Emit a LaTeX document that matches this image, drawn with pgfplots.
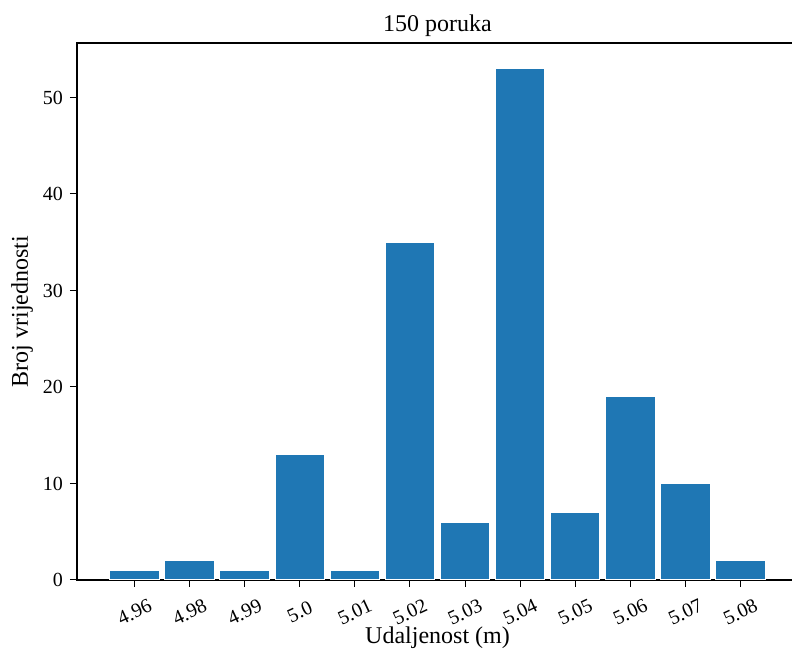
\documentclass[border=0pt]{standalone}
\usepackage{pgfplots}
\pgfplotsset{compat=1.18}
\usepackage{fontspec}
\setmainfont{Liberation Serif}
\definecolor{mplblue}{HTML}{1F77B4}
\begin{document}
\begin{tikzpicture}
\begin{axis}[
  name=ax,
  scale only axis,
  width=360.5pt, height=268.5pt,
  at={(0,0)}, anchor=south west,
  xmin=-1.045, xmax=12.045,
  ymin=0, ymax=55.65,
  xtick={0,1,2,3,4,5,6,7,8,9,10,11},
  xticklabels={4.96,4.98,4.99,5.0,5.01,5.02,5.03,5.04,5.05,5.06,5.07,5.08},
  ytick={0,10,20,30,40,50},
  tick align=outside,
  tick pos=left,
  major tick length=3.5pt,
  every tick/.style={black, line width=0.5pt},
  axis line style={line width=0.6pt},
  /pgf/number format/assume math mode=true,
  tick label style={font=\fontsize{10}{11}\selectfont},
  xticklabel style={rotate=25, anchor=center, inner sep=0pt},
  xticklabel shift=12.5pt,
  title={150 poruka},
  title style={font=\fontsize{12}{14}\selectfont, at={(axis description cs:0.5,1)}, anchor=south, yshift=-6.5pt},
  xlabel={Udaljenost (m)},
  ylabel={Broj vrijednosti},
  every axis x label/.style={at={(axis description cs:0.5,0)}, anchor=center, inner sep=0pt, yshift=-29pt, font=\fontsize{12}{14}\selectfont},
  every axis y label/.style={at={(axis description cs:0,0.5)}, rotate=90, anchor=center, yshift=27.5pt, font=\fontsize{12}{14}\selectfont},
  clip=false,
]
\addplot[ybar, bar width=0.9, fill=mplblue, draw=white, line width=0.5pt] coordinates {
 (0,1) (1,2) (2,1) (3,13) (4,1) (5,35) (6,6) (7,53) (8,7) (9,19) (10,10) (11,2)
};
\end{axis}
\pgfresetboundingbox
\useasboundingbox (-38.5pt,-38pt) rectangle (357.5pt,290pt);
\end{tikzpicture}
\end{document}
